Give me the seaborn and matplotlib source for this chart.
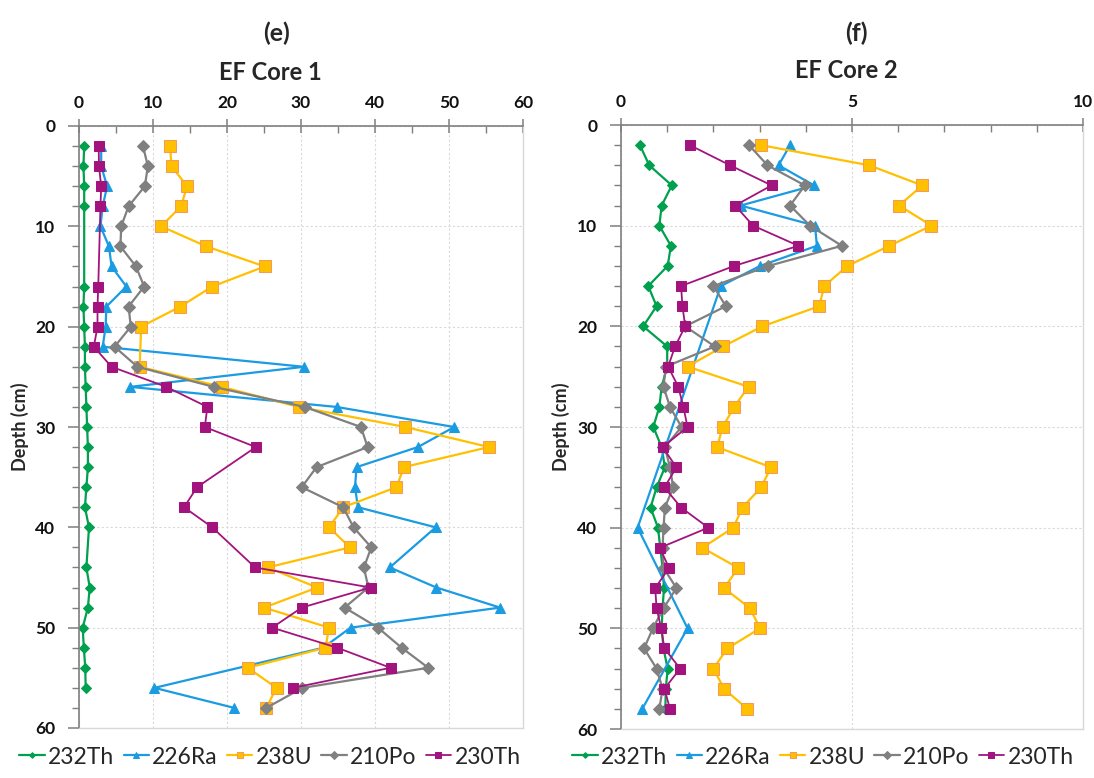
import matplotlib
matplotlib.use("Agg")
import matplotlib.pyplot as plt
import pandas as pd
import seaborn as sns
from matplotlib.ticker import MultipleLocator

sns.set_style("white")
plt.rcParams["font.family"] = ["Lato", "DejaVu Sans"]

# ---------------- EF Core 1 (activity values vs depth, cm) ----------------
c1_th232_depth = [2, 4, 6, 8, 16, 18, 20, 22, 24, 26, 28, 30, 32, 34, 36, 38, 40, 44, 46, 48, 50, 52, 54, 56]
c1_th232 = [0.7, 0.6, 0.7, 0.7, 0.7, 0.6, 0.7, 0.8, 0.8, 0.9, 1.0, 1.1, 1.2, 1.2, 1.0, 0.8, 1.35, 1.0, 1.45, 1.2, 0.5, 0.65, 0.85, 0.9]

c1_ra226_depth = [2, 4, 6, 8, 10, 12, 14, 16, 18, 20, 22, 24, 26, 28, 30, 32, 34, 36, 38, 40, 44, 46, 48, 50, 52, 56, 58]
c1_ra226 = [3.0, 3.0, 3.8, 3.2, 2.9, 4.05, 4.4, 6.4, 3.7, 3.6, 3.2, 30.4, 6.9, 34.8, 50.7, 45.8, 37.5, 37.3, 37.7, 48.2, 42.0, 48.3, 56.9, 36.7, 33.0, 10.2, 21.0]

c1_u238_depth = [2, 4, 6, 8, 10, 12, 14, 16, 18, 20, 24, 26, 28, 30, 32, 34, 36, 38, 40, 42, 44, 46, 48, 50, 52, 54, 56, 58]
c1_u238 = [12.3, 12.5, 14.6, 13.8, 11.1, 17.2, 25.1, 18.0, 13.7, 8.4, 8.2, 19.3, 29.7, 44.1, 55.4, 43.9, 42.9, 35.7, 33.8, 36.6, 25.5, 32.2, 25.0, 33.8, 33.3, 22.8, 26.7, 25.3]

c1_po210_depth = [2, 4, 6, 8, 10, 12, 14, 16, 18, 20, 22, 24, 26, 28, 30, 32, 34, 36, 38, 40, 42, 44, 46, 48, 50, 52, 54, 56, 58]
c1_po210 = [8.65, 9.3, 8.9, 6.7, 5.7, 5.6, 7.7, 8.8, 6.7, 7.0, 4.8, 7.9, 18.2, 30.5, 38.1, 39.0, 32.1, 30.1, 35.7, 37.1, 39.5, 38.5, 39.1, 35.9, 40.4, 43.6, 47.2, 30.2, 25.3]

c1_th230_depth = [2, 4, 6, 8, 16, 18, 20, 22, 24, 26, 28, 30, 32, 36, 38, 40, 44, 46, 48, 50, 52, 54, 56]
c1_th230 = [2.66, 2.7, 3.0, 2.9, 2.6, 2.5, 2.5, 2.0, 4.4, 11.8, 17.35, 17.0, 23.9, 15.95, 14.2, 18.0, 23.8, 39.4, 30.1, 26.1, 34.9, 42.1, 28.9]

# ---------------- EF Core 2 ----------------
c2_depth = [2, 4, 6, 8, 10, 12, 14, 16, 18, 20, 22, 24, 26, 28, 30, 32, 34, 36, 38, 40, 42, 44, 46, 48, 50, 52, 54, 56, 58]
c2_th232 = [0.41, 0.61, 1.10, 0.88, 0.83, 1.08, 1.01, 0.59, 0.77, 0.48, 1.0, 1.0, 0.88, 0.83, 0.70, 0.88, 0.95, 0.77, 0.64, 0.80, 0.85, 0.90, 0.93, 0.90, 0.88, 0.92, 1.01, 0.97, 0.96]

c2_ra226_depth = [2, 4, 6, 8, 10, 12, 14, 16, 40, 50, 58]
c2_ra226 = [3.66, 3.41, 4.18, 2.59, 4.2, 4.24, 3.01, 2.16, 0.36, 1.44, 0.46]

c2_u238 = [3.03, 5.37, 6.52, 6.02, 6.72, 5.81, 4.90, 4.40, 4.29, 3.06, 2.21, 1.44, 2.76, 2.45, 2.20, 2.08, 3.25, 3.03, 2.63, 2.43, 1.76, 2.54, 2.23, 2.79, 3.01, 2.30, 2.00, 2.23, 2.73]
c2_po210 = [2.77, 3.17, 3.98, 3.66, 4.09, 4.78, 3.19, 2.0, 2.27, 1.39, 2.03, 0.97, 0.92, 1.06, 1.31, 0.95, 1.06, 1.13, 0.95, 0.92, 0.90, 0.92, 1.2, 0.92, 0.69, 0.50, 0.77, 0.90, 0.83]
c2_th230 = [1.49, 2.36, 3.26, 2.47, 2.86, 3.84, 2.45, 1.30, 1.33, 1.39, 1.17, 1.02, 1.24, 1.35, 1.44, 0.90, 1.20, 0.94, 1.30, 1.89, 0.84, 1.04, 0.74, 0.77, 0.87, 0.94, 1.28, 0.94, 1.06]

series_order = ["232Th", "226Ra", "238U", "210Po", "230Th"]

styles = {
    "232Th": dict(color="#00A04E", marker="D", markersize=4.8, markeredgecolor="#00A04E",
                  markerfacecolor="#00A04E", linewidth=1.6),
    "226Ra": dict(color="#1A9BE2", marker="^", markersize=7, markeredgecolor="#1A9BE2",
                  markerfacecolor="#1A9BE2", linewidth=1.6),
    "238U": dict(color="#FFC000", marker="s", markersize=8, markeredgecolor="#F59B5A",
                 markerfacecolor="#FFC000", linewidth=1.6),
    "210Po": dict(color="#808080", marker="D", markersize=6.5, markeredgecolor="#808080",
                  markerfacecolor="#808080", linewidth=1.6),
    "230Th": dict(color="#A3137E", marker="s", markersize=7, markeredgecolor="#A3137E",
                  markerfacecolor="#A3137E", linewidth=1.3),
}

core1 = {
    "232Th": (c1_th232_depth, c1_th232),
    "226Ra": (c1_ra226_depth, c1_ra226),
    "238U": (c1_u238_depth, c1_u238),
    "210Po": (c1_po210_depth, c1_po210),
    "230Th": (c1_th230_depth, c1_th230),
}
core2 = {
    "232Th": (c2_depth, c2_th232),
    "226Ra": (c2_ra226_depth, c2_ra226),
    "238U": (c2_depth, c2_u238),
    "210Po": (c2_depth, c2_po210),
    "230Th": (c2_depth, c2_th230),
}

W, H = 1094, 778
fig = plt.figure(figsize=(W / 100, H / 100), dpi=100)


def px_axes(x0, y0, x1, y1):
    return fig.add_axes([x0 / W, 1 - y1 / H, (x1 - x0) / W, (y1 - y0) / H])


ax1 = px_axes(79, 126, 523, 728)
ax2 = px_axes(621, 125, 1083, 729)


def draw_core(ax, data, xmax, xmajor, xminor):
    for name in series_order:
        depth, vals = data[name]
        df = pd.DataFrame({"value": vals, "depth": depth})
        sns.lineplot(data=df, x="value", y="depth", ax=ax, sort=False, estimator=None,
                     label=name, **styles[name])
    ax.set_xlim(0, xmax)
    ax.set_ylim(60, 0)
    ax.xaxis.tick_top()
    ax.xaxis.set_label_position("top")
    ax.set_xlabel("")
    ax.xaxis.set_major_locator(MultipleLocator(xmajor))
    ax.xaxis.set_minor_locator(MultipleLocator(xminor))
    ax.yaxis.set_major_locator(MultipleLocator(10))
    ax.yaxis.set_minor_locator(MultipleLocator(2))
    ax.grid(True, which="major", color="#D9D9D9", linestyle=(0, (2, 2)), linewidth=0.8)
    ax.set_axisbelow(True)
    for side in ("right", "bottom"):
        ax.spines[side].set_color("#D9D9D9")
        ax.spines[side].set_linewidth(1.0)
    for side in ("top", "left"):
        ax.spines[side].set_color("#7F7F7F")
        ax.spines[side].set_linewidth(1.2)
        ax.spines[side].set_visible(True)
    ax.tick_params(axis="x", which="major", direction="inout", length=10, width=1.1,
                   color="#7F7F7F", top=True, bottom=False, labeltop=True, labelbottom=False,
                   pad=6, labelsize=12.5, labelcolor="#111111")
    ax.tick_params(axis="x", which="minor", direction="in", length=5, width=1.0,
                   color="#7F7F7F", top=True, bottom=False)
    ax.tick_params(axis="y", which="major", direction="out", length=8, width=1.1,
                   color="#7F7F7F", left=True, pad=9, labelsize=12.5, labelcolor="#111111")
    ax.tick_params(axis="y", which="minor", direction="out", length=5, width=1.0,
                   color="#7F7F7F", left=True)
    for lbl in ax.get_xticklabels() + ax.get_yticklabels():
        lbl.set_fontweight("bold")
    ax.set_ylabel("Depth (cm)", fontsize=13, fontweight="bold")
    handles, labels = ax.get_legend_handles_labels()
    ax.get_legend().remove()
    return handles, labels


h1, l1 = draw_core(ax1, core1, 60, 10, 5)
h2, l2 = draw_core(ax2, core2, 10, 5, 1)
ax1.yaxis.set_label_coords(-0.112, 0.5)
ax2.yaxis.set_label_coords(-0.110, 0.5)

legend_kw = dict(loc="center", ncol=5, frameon=False, fontsize=16.5, handlelength=1.1,
                 handletextpad=0.15, columnspacing=0.4, markerscale=0.6)
fig.legend(h1, l1, bbox_to_anchor=(270 / W, 1 - 757 / H), **legend_kw)
fig.legend(h2, l2, bbox_to_anchor=(823 / W, 1 - 757 / H), **legend_kw)

fig.text(277 / W, 1 - 33 / H, "(e)", ha="center", va="center", fontsize=18, fontweight="bold")
fig.text(270 / W, 1 - 72 / H, "EF Core 1", ha="center", va="center", fontsize=17, fontweight="bold")
fig.text(856 / W, 1 - 33 / H, "(f)", ha="center", va="center", fontsize=18, fontweight="bold")
fig.text(846 / W, 1 - 71 / H, "EF Core 2", ha="center", va="center", fontsize=17, fontweight="bold")

fig.savefig("out.png", dpi=100)
